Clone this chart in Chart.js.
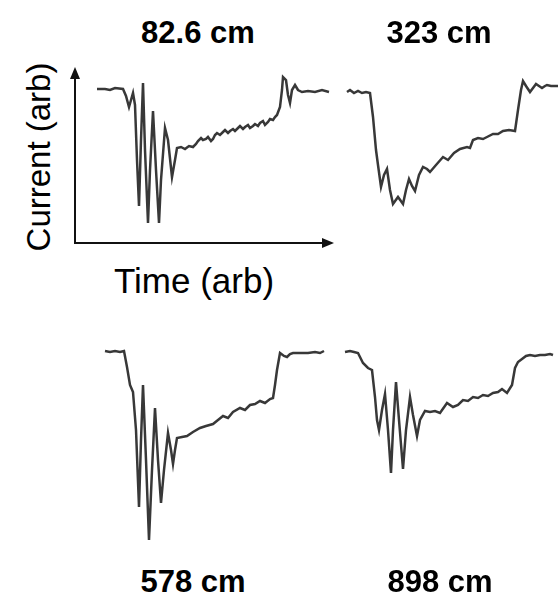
<!DOCTYPE html>
<html>
<head>
<meta charset="utf-8">
<script src="https://cdn.jsdelivr.net/npm/chart.js@4.4.1/dist/chart.umd.min.js"></script>
<style>
  body { margin: 0; width: 560px; height: 605px; background: #fff; position: relative; overflow: hidden;
         font-family: "Liberation Sans", Arial, sans-serif; color: #000; }
  .box { position: absolute; }
  .title { position: absolute; font-size: 31px; line-height: 31px; font-weight: bold; white-space: nowrap; transform: translateX(-50%); }
  .axlbl { position: absolute; font-size: 33px; line-height: 33px; white-space: nowrap; }
</style>
</head>
<body>

<div class="box" style="left:65px;top:58px;width:280px;height:195px"><canvas id="c1"></canvas></div>
<div class="box" style="left:340px;top:68px;width:220px;height:175px"><canvas id="c2"></canvas></div>
<div class="box" style="left:95px;top:335px;width:250px;height:213px"><canvas id="c3"></canvas></div>
<div class="box" style="left:340px;top:335px;width:220px;height:213px"><canvas id="c4"></canvas></div>

<div class="title" id="t1" style="left:198px;top:17px"></div>
<div class="title" id="t2" style="left:439px;top:17px"></div>
<div class="title" id="t3" style="left:193px;top:566px"></div>
<div class="title" id="t4" style="left:440px;top:566px"></div>
<div class="axlbl" id="ylab" style="left:38px;top:157px;transform:translate(-50%,-50%) rotate(-90deg)"></div>
<div class="axlbl" id="xlab" style="left:194px;top:263px;font-size:35px;line-height:35px;transform:translateX(-50%)"></div>

<script>
// panel titles (distance) and axis labels
var titulos = ["82.6 cm", "323 cm", "578 cm", "898 cm"];
var rotuloY = "Current (arb)";
var rotuloX = "Time (arb)";

// 82.6 cm
var tempo1 = [22, 30, 35, 40, 48, 51, 54, 56, 58, 60, 62, 64, 66, 68, 70, 73, 75, 78, 81, 84, 86, 90, 93, 97, 100, 102,
  106, 110, 114, 118, 121, 123, 126, 128, 131, 133, 136, 138, 140, 142, 145, 148, 150, 153, 155, 158, 160, 163, 165, 168,
  170, 173, 175, 178, 180, 183, 185, 188, 190, 193, 195, 198, 200, 202, 205, 207, 208, 211, 213, 215, 217, 220, 223, 227,
  233, 240, 247, 254];
var corrente1 = [154, 154, 153, 155, 154, 147, 136, 143, 150, 138, 83, 37, 103, 160, 93, 20, 73, 132, 73, 20, 63, 115, 103, 66, 83, 95,
  96, 94, 97, 96, 99, 102, 105, 103, 104, 106, 102, 104, 108, 110, 108, 111, 113, 110, 112, 114, 112, 115, 117, 114,
  116, 118, 115, 117, 119, 117, 120, 122, 118, 121, 124, 123, 126, 128, 136, 153, 166, 163, 148, 140, 153, 158, 153, 151,
  152, 151, 153, 151];

// 323 cm
var tempo2 = [7, 10, 14, 18, 22, 26, 30, 33, 36, 38, 41, 44, 47, 50, 53, 58, 63, 66, 69, 72, 75, 79, 83, 87, 90, 96, 103, 108,
  114, 120, 127, 130, 133, 138, 143, 147, 153, 158, 163, 169, 175, 178, 181, 183, 186, 190, 193, 196, 199, 202, 205, 207,
  211, 215, 218];
var corrente2 = [151, 153, 150, 152, 150, 151, 150, 126, 93, 78, 56, 68, 74, 53, 39, 46, 39, 53, 64, 57, 52, 68, 76, 74, 71, 78, 86, 83,
  90, 94, 96, 95, 103, 105, 104, 106, 109, 109, 112, 113, 112, 133, 153, 162, 157, 151, 155, 159, 157, 155, 157, 158,
  157, 157, 157];

// 578 cm
var tempo3 = [10, 15, 20, 25, 29, 32, 35, 38, 41, 44, 46, 48, 51, 54, 57, 60, 63, 66, 69, 73, 76, 78, 80, 82, 87, 92, 98, 105,
  111, 118, 123, 128, 133, 138, 145, 150, 155, 160, 165, 170, 175, 178, 180, 182, 185, 189, 192, 195, 198, 205, 213, 220,
  225, 229];
var corrente3 = [197, 196, 197, 196, 197, 181, 163, 156, 118, 41, 108, 163, 88, 8, 78, 140, 88, 45, 78, 115, 98, 84, 98, 110, 111, 112, 116, 120,
  122, 124, 128, 132, 130, 136, 140, 138, 143, 144, 147, 145, 149, 150, 163, 178, 195, 192, 191, 194, 195, 195, 195, 196,
  195, 197];

// 898 cm
var tempo4 = [5, 10, 14, 18, 23, 28, 32, 35, 37, 39, 42, 45, 48, 51, 53, 56, 59, 63, 66, 70, 73, 77, 80, 85, 90, 95, 100, 107,
  113, 118, 123, 128, 133, 138, 143, 148, 153, 158, 162, 167, 172, 175, 178, 182, 186, 190, 195, 200, 205, 210, 213];
var corrente4 = [196, 197, 196, 195, 185, 180, 178, 151, 128, 118, 138, 154, 118, 75, 118, 166, 128, 79, 118, 151, 133, 112, 128, 137, 136, 137, 135, 145,
  141, 143, 148, 147, 151, 150, 153, 152, 155, 156, 159, 155, 163, 180, 186, 189, 192, 193, 192, 193, 193, 194, 193];

document.getElementById("t1").textContent = titulos[0];
document.getElementById("t2").textContent = titulos[1];
document.getElementById("t3").textContent = titulos[2];
document.getElementById("t4").textContent = titulos[3];
document.getElementById("ylab").textContent = rotuloY;
document.getElementById("xlab").textContent = rotuloX;

function pontos(tempo, corrente) {
  var p = [];
  for (var i = 0; i < tempo.length; i++) {
    p.push({ x: tempo[i], y: corrente[i] });
  }
  return p;
}

// arrows for the first panel only
var eixos = {
  id: "eixos",
  afterDraw: function (chart) {
    var a = chart.chartArea;
    var c = chart.ctx;
    c.save();
    c.strokeStyle = "#111";
    c.fillStyle = "#111";
    c.lineWidth = 2;
    c.beginPath();
    c.moveTo(a.left, a.top + 8);
    c.lineTo(a.left, a.bottom);
    c.lineTo(a.right - 8, a.bottom);
    c.stroke();
    c.beginPath();
    c.moveTo(a.left, a.top - 1);
    c.lineTo(a.left - 5, a.top + 11);
    c.lineTo(a.left + 5, a.top + 11);
    c.closePath();
    c.fill();
    c.beginPath();
    c.moveTo(a.right + 1, a.bottom);
    c.lineTo(a.right - 11, a.bottom - 5);
    c.lineTo(a.right - 11, a.bottom + 5);
    c.closePath();
    c.fill();
    c.restore();
  }
};

function desenhar(id, tempo, corrente, xmax, ymax, padding, plugins) {
  return new Chart(document.getElementById(id), {
    type: "line",
    data: {
      datasets: [{
        data: pontos(tempo, corrente),
        borderColor: "#383838",
        borderWidth: 2.5,
        pointRadius: 0,
        tension: 0,
        clip: false
      }]
    },
    options: {
      responsive: true,
      maintainAspectRatio: false,
      animation: false,
      layout: { padding: padding },
      scales: {
        x: { type: "linear", display: false, min: 0, max: xmax },
        y: { display: false, min: 0, max: ymax }
      },
      plugins: { legend: { display: false }, tooltip: { enabled: false } }
    },
    plugins: plugins
  });
}

desenhar("c1", tempo1, corrente1, 258, 175, { left: 10, top: 10, right: 12, bottom: 10 }, [eixos]);
desenhar("c2", tempo2, corrente2, 220, 175, 0, []);
desenhar("c3", tempo3, corrente3, 250, 213, 0, []);
desenhar("c4", tempo4, corrente4, 220, 213, 0, []);
</script>
</body>
</html>
